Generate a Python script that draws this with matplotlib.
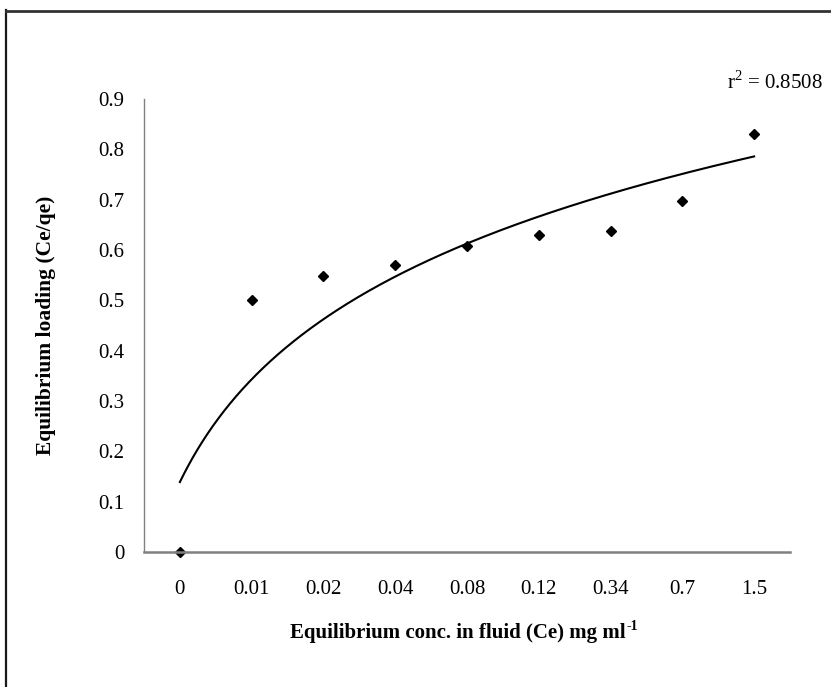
import numpy as np
import matplotlib
matplotlib.use("Agg")
import matplotlib.pyplot as plt
from matplotlib.lines import Line2D

plt.rcParams['font.family'] = ['Liberation Serif', 'DejaVu Serif']
plt.rcParams['mathtext.fontset'] = 'custom'
plt.rcParams['mathtext.rm'] = 'Liberation Serif'

# Equilibrium concentration categories and measured loadings
conc_labels = ['0', '0.01', '0.02', '0.04', '0.08', '0.12', '0.34', '0.7', '1.5']
loading = [0.0, 0.50, 0.548, 0.570, 0.607, 0.630, 0.638, 0.697, 0.830]
r2_text = 'r$^2$ = 0.8508'

W, H = 831, 687
fig = plt.figure(figsize=(W / 100, H / 100), dpi=100)

# outer frame lines (left and top)
fig.add_artist(Line2D([6 / W, 6 / W], [0, 1 - 10 / H], transform=fig.transFigure,
                      color='#1a1a1a', lw=1.6))
fig.add_artist(Line2D([6 / W, 1], [1 - 10.5 / H, 1 - 10.5 / H], transform=fig.transFigure,
                      color='#333333', lw=2.0))

ax_l, ax_r = 144, 790
ax_t, ax_b = 99, 552
ax = fig.add_axes([ax_l / W, 1 - ax_b / H, (ax_r - ax_l) / W, (ax_b - ax_t) / H])

x = np.arange(1, len(conc_labels) + 1)
y = np.array(loading)

# logarithmic trend line fitted over category positions
a, b = np.polyfit(np.log(x), y, 1)
xf = np.linspace(1, len(conc_labels), 400)
ax.plot(xf, a * np.log(xf) + b, color='black', lw=1.5)

ax.plot(x, y, linestyle='none', marker='D', markersize=5.5, color='black')

ax.set_xlim(0.5, len(conc_labels) + 0.5)
ax.set_ylim(0, 0.9)
ax.set_yticks(np.arange(0, 0.91, 0.1))
ax.set_yticklabels(['0'] + [f'{v:.1f}' for v in np.arange(0.1, 0.91, 0.1)])
ax.set_xticks(x)
ax.set_xticklabels(conc_labels)

for s in ['top', 'right']:
    ax.spines[s].set_visible(False)
ax.spines['left'].set_color('#808080')
ax.spines['left'].set_linewidth(1.0)
ax.spines['bottom'].set_color('#808080')
ax.spines['bottom'].set_linewidth(1.8)
ax.spines['left'].set_zorder(0)
ax.tick_params(axis='both', length=0, labelsize=15)
ax.tick_params(axis='y', pad=14)
ax.tick_params(axis='x', pad=20)
for artist in ax.lines:
    artist.set_clip_on(False)

ax.set_ylabel('Equilibrium loading (Ce/qe)', fontsize=15.5, fontweight='bold')
ax.yaxis.set_label_coords((56 - ax_l) / (ax_r - ax_l), 0.5)

# x-axis title with a hyphen superscript
xl = fig.text(458 / W, 1 - 633 / H, 'Equilibrium conc. in fluid (Ce) mg ml',
              ha='center', va='center', fontsize=15, fontweight='bold')
fig.canvas.draw()
bb = xl.get_window_extent()
fig.text((bb.x1 + 1) / W, (bb.y1 - 4) / H, '-1', ha='left', va='center',
         fontsize=10, fontweight='bold')

fig.text(823 / W, 1 - 83 / H, r2_text, ha='right', va='center', fontsize=15)

fig.savefig('out.png', dpi=100, facecolor='white')
